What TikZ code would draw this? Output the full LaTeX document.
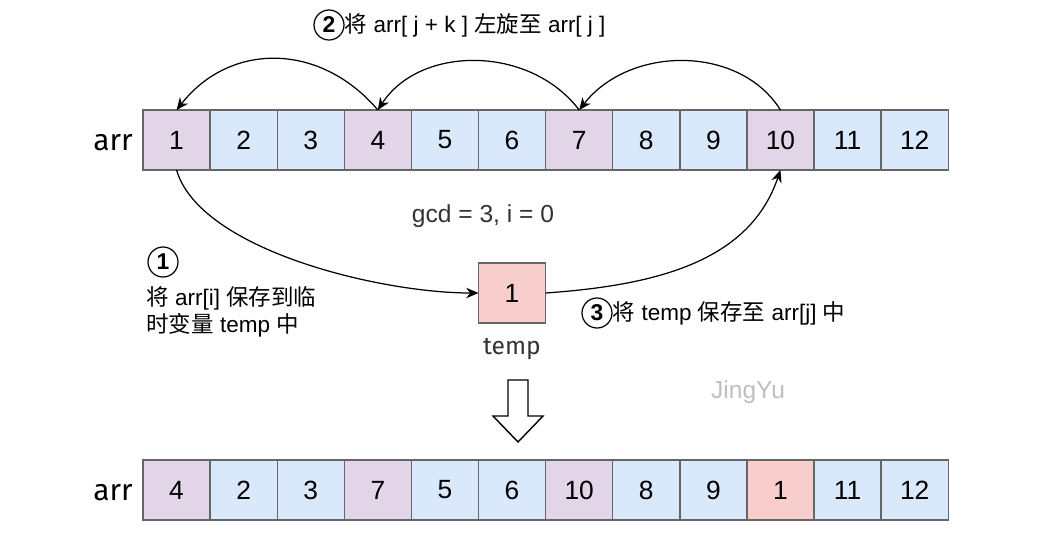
\documentclass[tikz,border=0pt]{standalone}
\usepackage{fontspec}
\setmainfont{Liberation Sans}
\newfontfamily\cjk{Noto Sans CJK SC}
\newfontfamily\hand{Fira Sans}
\usetikzlibrary{arrows.meta,positioning}
\definecolor{cellBlue}{HTML}{DAE8FC}
\definecolor{cellPurple}{HTML}{E1D5E7}
\definecolor{cellRed}{HTML}{F8CECC}
\definecolor{cellLine}{HTML}{666666}
\tikzset{
	cell/.style={draw=cellLine, line width=0.8pt, minimum width=67.1*0.02cm, minimum height=60*0.02cm, inner sep=0, outer sep=0, font=\fontsize{15}{15}\selectfont},
	num/.style={draw, circle, line width=0.7pt, inner sep=0.5pt, minimum size=0.6cm, font=\bfseries\fontsize{13}{13}\selectfont},
	lab/.style={font=\fontsize{12.8}{15.5}\selectfont, inner sep=0},
	conn/.style={-{Stealth[length=7pt,width=6pt]}, line width=0.7pt}
}
\newcommand{\zh}[1]{{\cjk #1}}
\begin{document}
\begin{tikzpicture}[x=0.02cm, y=-0.02cm]
	\useasboundingbox (0,0) rectangle (1044,532);
	% top row
	\foreach \v [count=\i] in {1,...,12} {
		\pgfmathtruncatemacro{\m}{mod(\i-1,3)}
		\ifnum\m=0 \def\fc{cellPurple}\else\def\fc{cellBlue}\fi
		\node[cell, fill=\fc] (t\i) at (143+67.1*\i-33.55, 140) {\v};
	}
	% bottom row
	\foreach \v/\fc [count=\i] in {4/cellPurple,2/cellBlue,3/cellBlue,7/cellPurple,5/cellBlue,6/cellBlue,10/cellPurple,8/cellBlue,9/cellBlue,1/cellRed,11/cellBlue,12/cellBlue} {
		\node[cell, fill=\fc] (b\i) at (143+67.1*\i-33.55, 490) {\v};
	}
	\node[font=\hand\fontsize{17}{17}\selectfont, anchor=east, inner sep=0] (arrT) at (133,143) {arr};
	\node[font=\hand\fontsize{17}{17}\selectfont, anchor=east, inner sep=0] (arrB) at (133,493) {arr};
	% temp
	\node[cell, fill=cellRed] (temp) at (512,293) {1};
	\node[font=\hand\fontsize{14}{14}\selectfont, text=black!80] (tempL) at (512,349) {temp};
	% rotations
	\draw[conn] (t10.north) .. controls (740,45) and (630,45) .. (t7.north);
	\draw[conn] (t7.north) .. controls (530,45) and (420,45) .. (t4.north);
	\draw[conn] (t4.north) .. controls (320,42) and (230,42) .. (t1.north);
	\draw[conn] (t1.south) .. controls (200,250) and (380,293) .. (temp.west);
	\draw[conn] (temp.east) .. controls (660,285) and (750,260) .. (t10.south);
	% labels
	\node[num] (n2) at (329,25) {2};
	\node[lab, anchor=west] (l2) at (n2.east) {\zh{将} arr[ j + k ] \zh{左旋至} arr[ j ]};
	\node[num] (n1) at (163,262) {1};
	\node[lab, anchor=north west, align=left] (l1) at (146,286) {\zh{将} arr[i] \zh{保存到临}\\\zh{时变量} temp \zh{中}};
	\node[num] (n3) at (597,313) {3};
	\node[lab, anchor=west] (l3) at (n3.east) {\zh{将} temp \zh{保存至} arr[j] \zh{中}};
	\node[lab, text=black!80, font=\fontsize{14}{14}\selectfont] (gcd) at (483,216) {gcd = 3, i = 0};
	\node[lab, text=black!25, font=\fontsize{14}{14}\selectfont] (jy) at (748,392) {JingYu};
	% hollow down arrow
	\draw[line width=0.8pt, fill=white] (508,380) -- (528,380) -- (528,416) -- (543,416) -- (518,442) -- (493,416) -- (508,416) -- cycle;
\end{tikzpicture}
\end{document}
